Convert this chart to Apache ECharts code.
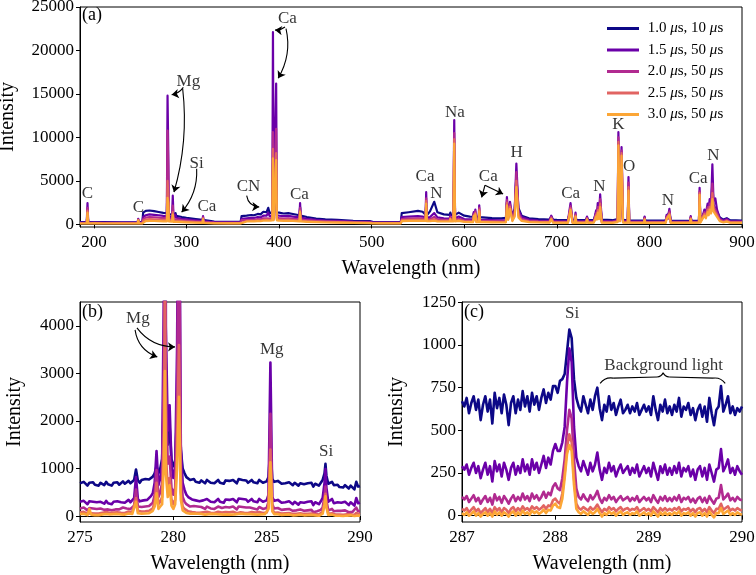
<!DOCTYPE html>
<html>
<head>
<meta charset="utf-8">
<script src="https://cdn.jsdelivr.net/npm/echarts@6/dist/echarts.min.js"></script>
<style>html,body{margin:0;padding:0;background:#fff;}#chart{width:756px;height:575px;}</style>
</head>
<body>
<div id="chart"></div>
<script>
// ---------- series names ----------
const seriesNames = ['1.0 μs, 10 μs', '1.5 μs, 50 μs', '2.0 μs, 50 μs', '2.5 μs, 50 μs', '3.0 μs, 50 μs'];

// ---------- panel (a): full spectrum ----------
const wlA = [
185,192.3,193.1,193.9,200.2,201,201.8,210,230,247.2,
247.9,248.6,252.4,253.2,256,260,265,270,275,278.8,
279.55,280.27,281,284.4,285.2,286,287.4,288.16,288.9,295,
300,310,317.2,317.9,318.6,325,330,345,358.5,359.5,
365,370,371.5,373,377,380,383,385,386.5,388.3,
389.8,391.5,392.7,393.4,394.2,396.1,396.85,397.6,400,405,
410,415,422,422.7,423.4,430,440,450,463,480,
498,499.5,501,510,531.5,532.5,540,550,555,558.2,
558.9,559.6,563,567.6,571,578,584.3,585,585.7,588.3,
589.2,590.1,594,600,606,609.6,610.3,611.2,612,613,
615.5,616.2,617,620,630,640,645,646.1,647.5,649.4,
652,654.5,656.3,658.5,662,670,680,692,694,696,
700,712,714.8,717,719.5,720.2,721,731.5,732.6,733.7,
740,742.4,743.3,744.2,745.5,746.8,748.5,760,765.7,766.5,
768.2,769.9,771.5,776.6,777.4,778.2,790,794,794.8,795.6,
805,817.5,818.6,820,821.6,823,843.8,844.6,845.4,853.5,
854.2,855,857,859.4,861,862.9,864,865.1,866.6,868,
869.2,871.2,873,876,880,883.5,887,900];
const a10 = [
250,250,1200,250,260,350,260,250,240,240,
450,250,280,1350,1550,1600,1520,1420,1330,1280,
5000,3500,1200,1100,1500,1050,1000,1300,980,850,
760,620,520,750,500,400,330,280,280,950,
1000,1080,1250,1050,1200,1150,1450,1550,1400,1900,
1300,1300,1400,7000,1400,1400,5500,1400,1350,1250,
1300,1200,1050,2000,1000,850,680,580,520,420,
380,500,300,260,260,1300,1400,1550,1450,1100,
2200,1050,1500,2600,1400,1150,1100,1350,1100,1100,
6000,1100,1350,1000,900,880,1300,900,1000,850,
850,1400,820,800,730,700,750,2500,1000,2000,
1000,1800,5500,1900,1000,700,600,560,900,540,
520,500,1600,490,490,1000,480,480,800,490,
520,1300,900,1800,1000,2500,550,480,600,7000,
700,6000,500,480,4000,470,450,450,800,450,
430,430,900,700,1400,450,420,800,420,450,
3000,500,700,1400,1100,1900,1500,2300,1800,5000,
2200,2400,1500,800,550,700,480,450];
const a15 = [
200,200,2450,200,220,420,220,210,200,200,
650,200,220,850,1050,1150,1100,1050,980,950,
14800,9000,900,830,3300,800,780,1100,760,650,
580,460,390,950,380,300,260,230,230,650,
700,750,900,740,850,800,1000,1100,1000,1350,
950,950,1050,22100,1050,1050,16200,1050,1000,950,
980,900,800,2450,780,650,520,450,400,330,
300,420,240,210,210,850,900,950,900,800,
3700,780,850,1300,800,700,680,1050,680,700,
12000,700,900,620,580,570,1400,900,1700,550,
560,2200,530,520,480,460,500,3150,900,2600,
800,1600,7000,1700,850,550,450,420,1000,400,
380,360,2450,350,350,1350,350,350,900,360,
400,1600,1000,2450,1100,3450,420,360,500,10600,
600,8900,400,380,5450,370,340,340,900,340,
330,330,1100,800,1800,350,330,950,330,360,
4200,400,700,1700,1300,2400,1800,2900,2200,6900,
2700,3000,1700,700,450,650,380,360];
const a20 = [
160,160,1900,160,170,350,170,160,160,160,
560,160,170,600,780,850,820,780,730,720,
10800,7000,690,640,2150,620,600,750,590,500,
450,360,310,800,300,240,210,190,190,480,
500,530,620,530,600,570,700,760,700,900,
680,680,750,10600,750,750,11000,750,720,680,
700,650,580,1900,570,480,400,350,310,260,
240,340,190,170,170,620,660,700,670,620,
3000,600,600,850,580,520,510,850,510,520,
10500,520,650,460,430,420,1200,750,1500,420,
430,1900,410,400,370,350,380,2800,750,2300,
600,1300,6000,1300,650,420,350,330,850,320,
300,290,2100,280,280,1150,280,280,750,290,
310,1300,800,2000,900,2900,330,290,400,10000,
500,8500,320,300,4800,300,270,270,750,270,
260,260,900,650,1500,280,260,800,260,290,
3800,320,550,1400,1000,2000,1500,2400,1800,4700,
2200,2400,1300,550,350,500,300,290];
const a25 = [
130,130,1600,130,140,300,140,130,130,130,
500,130,140,420,550,600,580,550,520,510,
5000,3600,490,460,1400,440,430,600,420,370,
330,270,230,700,220,180,160,150,150,380,
400,420,480,420,460,450,530,570,540,650,
520,520,580,8700,580,580,8200,580,560,530,
540,500,450,1600,440,380,320,280,250,210,
190,280,160,140,140,480,510,540,520,500,
2700,480,460,600,440,400,400,700,400,400,
9800,400,500,360,340,330,1050,650,1300,330,
330,1700,320,320,300,280,300,2500,620,2050,
480,1100,5000,1000,500,330,280,260,700,250,
240,230,1850,220,220,1000,220,220,650,230,
250,1100,650,1650,750,2400,260,230,330,9500,
420,8200,260,240,4300,240,220,220,650,220,
210,210,750,550,1250,220,210,700,210,230,
3600,260,450,1200,850,1700,1250,2000,1500,3600,
1800,2000,1050,450,280,400,240,230];
const a30 = [
100,100,1350,100,110,250,110,100,100,100,
450,100,110,280,380,400,390,370,350,340,
3050,2500,330,310,1130,300,290,500,280,250,
230,190,170,600,160,130,120,110,110,320,
330,340,380,340,370,360,420,450,430,500,
420,420,470,7600,470,470,7400,470,440,410,
420,390,350,1400,340,300,250,220,200,170,
150,220,120,110,110,380,400,420,410,400,
2400,380,360,420,350,330,330,600,330,330,
9300,330,400,290,270,260,950,550,1150,260,
260,1500,250,250,230,220,240,2200,520,1800,
380,900,4300,800,400,260,220,200,600,200,
190,180,1650,170,170,900,170,170,550,180,
200,900,550,1350,600,2000,210,180,270,9100,
350,7900,210,190,3900,190,170,170,550,170,
170,170,600,450,1050,180,170,600,170,190,
3400,210,370,1000,700,1400,1050,1700,1250,2900,
1500,1650,850,360,220,320,190,180];

// ---------- panel (b): 275-290 nm ----------
const wlB = [
275,275.1,275.2,275.3,275.4,275.5,275.6,275.7,275.8,275.9,
276,276.1,276.2,276.3,276.4,276.5,276.6,276.7,276.8,276.9,
277,277.1,277.2,277.3,277.4,277.5,277.6,277.7,277.8,277.9,
278,278.1,278.2,278.3,278.4,278.5,278.6,278.7,278.8,278.9,
279,279.1,279.2,279.3,279.4,279.5,279.55,279.6,279.7,279.8,279.9,
280,280.1,280.2,280.3,280.4,280.5,280.6,280.7,280.8,280.9,
281,281.1,281.2,281.3,281.4,281.5,281.6,281.7,281.8,281.9,
282,282.1,282.2,282.3,282.4,282.5,282.6,282.7,282.8,282.9,
283,283.1,283.2,283.3,283.4,283.5,283.6,283.7,283.8,283.9,
284,284.1,284.2,284.3,284.4,284.5,284.6,284.7,284.8,284.9,
285,285.1,285.2,285.3,285.4,285.5,285.6,285.7,285.8,285.9,
286,286.1,286.2,286.3,286.4,286.5,286.6,286.7,286.8,286.9,
287,287.1,287.2,287.3,287.4,287.5,287.6,287.7,287.8,287.9,
288,288.1,288.15,288.2,288.3,288.4,288.5,288.6,288.7,288.8,288.9,
289,289.1,289.2,289.3,289.4,289.5,289.6,289.7,289.8,289.9,
290];
const b10 = [
690,650,720,680,640,700,670,710,660,690,
640,700,680,650,720,670,690,640,700,680,
710,660,690,730,680,700,740,690,720,760,
980,750,700,760,720,780,740,770,800,830,
900,1050,900,1000,1200,2500,6000,2200,1500,1900,1200,
1050,1150,2200,3500,1400,1000,900,820,790,760,
740,780,720,760,700,750,730,690,760,720,
700,740,690,730,760,700,720,680,750,710,
740,700,760,720,690,780,740,760,720,750,
700,740,760,710,730,690,760,720,700,740,
730,820,1500,780,720,690,740,700,680,720,
690,660,710,680,650,700,670,640,690,660,
670,630,690,650,700,620,680,660,640,700,
760,900,1100,850,680,640,720,650,620,660,610,
640,600,650,620,580,640,600,560,720,620,
630];
const b15 = [
300,260,320,280,250,310,270,300,260,290,
250,300,280,260,320,270,290,250,300,280,
310,270,290,330,280,300,340,290,320,380,
820,360,310,350,330,370,340,380,420,480,
700,1370,650,800,1100,5000,14800,4000,1800,2330,1100,
800,1000,3500,9000,1500,700,550,450,400,370,
350,380,330,360,310,350,330,300,360,320,
300,340,290,330,360,300,320,280,350,310,
340,300,360,320,290,370,340,360,320,350,
300,340,360,310,330,290,360,320,300,340,
330,450,3230,400,320,290,340,300,280,320,
290,260,310,280,250,300,270,240,290,260,
280,240,300,260,310,230,290,270,250,310,
380,700,990,600,300,260,360,270,240,290,250,
280,240,300,260,230,290,250,220,380,270,
280];
const b20 = [
160,130,180,150,120,170,140,160,130,150,
120,160,150,130,170,140,150,120,160,140,
170,140,150,180,140,160,190,150,170,220,
560,200,160,190,170,200,180,210,240,280,
450,970,400,500,700,3500,10800,2800,1100,1250,600,
450,600,2500,7000,1000,400,300,250,220,200,
190,210,170,200,160,190,180,150,200,170,
160,190,150,180,200,160,170,140,190,160,
180,150,200,170,140,200,180,190,160,180,
150,180,190,160,170,140,190,160,150,170,
170,300,2150,250,160,140,170,150,130,160,
140,120,150,130,110,140,120,100,140,120,
110,90,120,100,130,80,110,100,90,130,
180,420,620,330,120,100,150,100,90,110,90,
110,90,120,100,80,110,90,80,180,100,
100];
const b25 = [
80,60,90,70,50,80,60,75,55,70,
55,75,70,60,85,65,70,55,75,65,
80,60,70,90,65,75,95,70,80,120,
380,110,80,95,85,100,90,110,130,160,
300,700,250,300,400,1800,5000,1300,600,800,350,
250,350,1500,3600,500,200,150,120,100,90,
85,95,75,90,70,85,80,65,90,75,
70,85,65,80,90,70,75,60,85,70,
80,65,90,75,60,90,80,85,70,80,
65,80,85,70,75,60,85,70,65,75,
75,200,1400,150,70,60,75,65,55,70,
60,50,65,55,45,60,50,40,60,50,
45,30,50,35,55,25,45,40,30,50,
90,300,470,220,50,35,60,35,30,45,30,
40,25,45,35,20,40,30,20,65,35,
35];
const b30 = [
40,25,50,35,20,150,30,40,20,35,
20,40,35,25,45,30,35,20,40,30,
45,25,35,50,30,40,55,35,45,80,
300,60,40,50,45,55,50,60,80,110,
200,480,150,200,250,1200,3050,900,400,650,220,
150,250,1000,2510,350,120,80,65,55,50,
45,55,40,50,35,45,40,30,50,40,
35,45,30,40,50,35,40,30,45,35,
40,30,45,35,25,45,40,45,35,40,
30,40,45,35,40,30,45,35,30,40,
40,150,1130,100,40,30,40,35,25,35,
30,20,35,25,15,30,20,15,30,20,
15,5,20,10,25,0,15,10,5,20,
50,250,414,180,25,10,30,10,5,15,5,
15,0,20,10,0,15,5,0,40,10,
10];

// ---------- panel (c): 287-290 nm ----------
const wlC = [
287,287.025,287.05,287.075,287.1,287.125,287.15,287.175,287.2,287.225,
287.25,287.275,287.3,287.325,287.35,287.375,287.4,287.425,287.45,287.475,
287.5,287.525,287.55,287.575,287.6,287.625,287.65,287.675,287.7,287.725,
287.75,287.775,287.8,287.825,287.85,287.875,287.9,287.925,287.95,287.975,
288,288.025,288.05,288.075,288.1,288.125,288.15,288.175,288.2,288.225,
288.25,288.275,288.3,288.325,288.35,288.375,288.4,288.425,288.45,288.475,
288.5,288.525,288.55,288.575,288.6,288.625,288.65,288.675,288.7,288.725,
288.75,288.775,288.8,288.825,288.85,288.875,288.9,288.925,288.95,288.975,
289,289.025,289.05,289.075,289.1,289.125,289.15,289.175,289.2,289.225,
289.25,289.275,289.3,289.325,289.35,289.375,289.4,289.425,289.45,289.475,
289.5,289.525,289.55,289.575,289.6,289.625,289.65,289.675,289.7,289.725,
289.75,289.775,289.8,289.825,289.85,289.875,289.9,289.925,289.95,289.975,290];
const c10 = [
670,640,690,600,660,700,620,680,560,650,
700,610,680,540,720,630,690,600,710,650,
530,660,700,600,680,620,730,640,700,610,
720,650,700,620,690,740,660,720,680,760,
760,720,790,800,830,960,1090,1040,800,690,
640,610,700,650,600,680,620,700,750,630,
560,650,610,700,620,660,590,640,680,600,
620,650,600,640,610,660,590,620,650,610,
640,590,700,620,560,650,610,680,600,640,
590,650,610,690,580,640,620,660,590,630,
560,620,650,580,640,550,690,600,530,620,
640,760,610,650,700,600,640,590,630,610,640];
const c15 = [
290,270,300,240,280,310,250,290,220,270,
310,240,290,200,320,260,300,230,310,270,
210,280,310,240,290,250,330,260,300,240,
330,270,310,250,300,350,280,340,300,380,
420,380,380,430,520,780,980,900,520,340,
290,260,320,280,240,310,260,300,370,270,
210,280,250,310,260,290,230,270,300,250,
270,290,240,280,250,300,230,260,290,250,
280,230,310,260,210,290,250,300,240,280,
240,290,250,310,230,280,260,290,230,270,
210,270,290,230,280,210,300,250,200,270,
280,390,260,290,330,250,280,240,290,260,240];
const c20 = [
110,95,115,80,100,120,85,105,70,95,
115,80,105,65,125,90,110,75,115,95,
70,100,120,85,110,90,130,95,115,85,
130,100,120,90,110,140,105,135,120,170,
190,160,150,220,330,500,620,570,330,160,
110,95,125,100,85,120,95,115,145,100,
75,105,90,120,95,110,80,100,115,90,
100,110,85,105,90,115,80,95,110,90,
105,80,120,95,75,110,90,115,85,105,
85,110,90,120,80,105,95,110,80,100,
75,100,110,80,105,75,115,90,70,100,
105,180,95,110,130,90,105,85,110,95,90];
const c25 = [
40,30,45,20,35,50,25,40,15,30,
45,20,40,15,50,30,45,20,45,35,
15,40,50,25,45,30,55,35,45,30,
55,40,50,35,45,60,40,60,55,90,
100,80,70,130,250,400,477,430,220,70,
45,35,50,40,30,50,35,45,65,40,
20,40,30,50,35,45,25,40,50,30,
40,45,30,40,35,50,25,35,45,30,
40,25,50,35,20,45,30,45,30,40,
30,45,35,50,25,40,35,45,25,40,
20,40,45,25,40,20,50,30,15,40,
40,70,35,45,55,30,40,30,45,35,30];
const c30 = [
15,5,20,0,10,25,0,15,-5,10,
20,0,15,-5,25,5,20,0,20,10,
-5,15,25,0,20,5,30,10,20,5,
30,15,25,10,20,35,15,35,30,60,
70,50,45,100,220,360,414,380,180,40,
20,10,25,15,5,25,10,20,40,15,
-5,15,5,25,10,20,0,15,25,5,
15,20,5,15,10,25,0,10,20,5,
15,0,25,10,-5,20,5,20,5,15,
5,20,10,25,0,15,10,20,0,15,
-5,15,20,0,15,-5,25,5,-10,15,
15,45,10,20,30,5,15,5,20,10,5];

// ---------- tick values ----------
const xTicksA = [200,300,400,500,600,700,800,900];
const yTicksA = [0,5000,10000,15000,20000,25000];
const xTicksB = [275,280,285,290];
const yTicksB = [0,1000,2000,3000,4000];
const xTicksC = [287,288,289,290];
const yTicksC = [0,250,500,750,1000,1250];

// ---------- annotations (data coordinates) ----------
const labelsA = [
  [193,3600,'C'],[248,1950,'C'],[302,16400,'Mg'],[311,7000,'Si'],[322,2000,'Ca'],
  [367,4300,'CN'],[409,23700,'Ca'],[422,3460,'Ca'],[557.6,5450,'Ca'],[570,3500,'N'],
  [590,12900,'Na'],[626,5450,'Ca'],[656.6,8300,'H'],[715,3500,'Ca'],[746,4300,'N'],
  [766.4,11500,'K'],[778,6600,'O'],[820,2760,'N'],[852.7,5260,'Ca'],[869,7950,'N']];
const labelsB = [[278.1,4160,'Mg'],[285.27,3500,'Mg'],[288.18,1350,'Si']];
const labelsC = [[288.18,1185,'Si'],[289.16,882,'Background light']];
// [x1,y1,x2,y2,curveness]
const arrowsA = [
  [296.6,15750,284,14900,0.2],[295.9,15600,286.5,3700,0.1],[311,6400,294.8,1400,0.2],
  [365,3300,378.6,2000,-0.4],[406.4,22700,395.6,22350,0.2],[407.5,22500,399,16800,0.2],
  [622.4,4500,618.8,3100,0],[622.4,4500,642,3500,0]];
const arrowsB = [[277.95,3920,279.14,3350,-0.3],[278.05,3960,280.09,3560,-0.25]];
const braceC = [
  [288.48,775,288.62,806,0.3],[288.62,806,289.09,813,0],[289.09,813,289.155,838,-0.3],
  [289.155,838,289.22,813,-0.3],[289.22,813,289.69,806,0],[289.69,806,289.82,775,0.3]];

// ---------- styling ----------
const FONT = 'Liberation Serif';
const colors = ['#0d0887','#6a00a8','#b12a90','#e16462','#fca636'];

const grids = [
  {left:80, right:14, top:7, height:220},
  {left:80, width:280, top:302, height:220},
  {left:462, width:280, top:302, height:220}
].map(g => Object.assign({show:true, borderColor:'#000', borderWidth:1, backgroundColor:'transparent',
  containLabel:false, outerBoundsMode:'none'}, g));

function xAx(gi, min, max, ticks) {
  return {gridIndex:gi, type:'value', min:min, max:max, name:'Wavelength (nm)', nameLocation:'middle', nameGap:32,
    nameTextStyle:{fontFamily:FONT, fontSize:20, color:'#000'},
    axisLine:{show:true, lineStyle:{color:'#000', width:1}}, splitLine:{show:false},
    axisTick:{show:true, length:4, customValues:ticks, lineStyle:{color:'#000', width:1}},
    axisLabel:{show:true, customValues:ticks, fontFamily:FONT, fontSize:17, color:'#000', margin:7, formatter:v=>String(v)}};
}
function yAx(gi, min, max, ticks, gap) {
  return {gridIndex:gi, type:'value', min:min, max:max, name:'Intensity', nameLocation:'middle', nameGap:gap,
    nameTextStyle:{fontFamily:FONT, fontSize:20, color:'#000'},
    axisLine:{show:true, lineStyle:{color:'#000', width:1}}, splitLine:{show:false},
    axisTick:{show:true, length:4, customValues:ticks, lineStyle:{color:'#000', width:1}},
    axisLabel:{show:true, customValues:ticks, fontFamily:FONT, fontSize:17, color:'#000', margin:6, formatter:v=>String(v)}};
}

const series = [];
function addPanel(gi, wl, sets, width) {
  sets.forEach((vals, k) => {
    series.push({type:'line', name:seriesNames[k], xAxisIndex:gi, yAxisIndex:gi,
      data: wl.map((x,i)=>[x, vals[i]]), symbol:'none', showSymbol:false,
      lineStyle:{width:width, color:colors[k], join:'round'}, itemStyle:{color:colors[k]},
      animation:false, z:2});
  });
}
addPanel(0, wlA, [a10,a15,a20,a25,a30], 2.2);
addPanel(1, wlB, [b10,b15,b20,b25,b30], 2.6);
addPanel(2, wlC, [c10,c15,c20,c25,c30], 2.6);

function addLabels(gi, arr) {
  series.push({type:'scatter', xAxisIndex:gi, yAxisIndex:gi, symbolSize:0, data:arr, silent:true, z:10,
    label:{show:true, position:'inside', formatter:p=>p.data[2], color:'#000', fontFamily:FONT, fontSize:17}});
}
addLabels(0, labelsA); addLabels(1, labelsB); addLabels(2, labelsC);

function addLines(gi, arr, arrow) {
  series.push({type:'lines', coordinateSystem:'cartesian2d', xAxisIndex:gi, yAxisIndex:gi, z:11, silent:true,
    symbol: arrow ? ['none','arrow'] : ['none','none'], symbolSize: 7,
    lineStyle:{color:'#000', width:1.1, opacity:1},
    data: arr.map(a=>({coords:[[a[0],a[1]],[a[2],a[3]]], lineStyle:{curveness:a[4]}}))});
}
addLines(0, arrowsA, true); addLines(1, arrowsB, true); addLines(2, braceC, false);

function legendFmt(name) {
  return ' ' + name.split('μ').map(s => '{n|' + s + '}').join('{i|μ}');
}

const option = {
  animation:false,
  backgroundColor:'#fff',
  grid: grids,
  xAxis: [xAx(0,185,900,xTicksA), xAx(1,275,290,xTicksB), xAx(2,287,290,xTicksC)],
  yAxis: [yAx(0,-300,25000,yTicksA,62), yAx(1,-125,4505,yTicksB,55), yAx(2,-37,1252,yTicksC,55)],
  legend: {data:seriesNames, orient:'vertical', left:602, top:16, itemWidth:32, itemHeight:3, icon:'rect',
    itemGap:6.5, formatter:legendFmt, selectedMode:false,
    textStyle:{fontFamily:FONT, fontSize:15, color:'#000', lineHeight:14,
      rich:{n:{fontFamily:FONT, fontSize:15, color:'#000', lineHeight:14},
            i:{fontFamily:FONT, fontSize:15, fontStyle:'italic', color:'#000', lineHeight:14}}}},
  graphic: [
    {type:'text', left:82, top:6, style:{text:'(a)', font:'18px "Liberation Serif"', fill:'#000'}},
    {type:'text', left:82, top:303, style:{text:'(b)', font:'18px "Liberation Serif"', fill:'#000'}},
    {type:'text', left:464, top:303, style:{text:'(c)', font:'18px "Liberation Serif"', fill:'#000'}}
  ],
  series: series
};
const chart = echarts.init(document.getElementById('chart'), null, {renderer:'canvas'});
chart.setOption(option);
</script>
</body>
</html>
